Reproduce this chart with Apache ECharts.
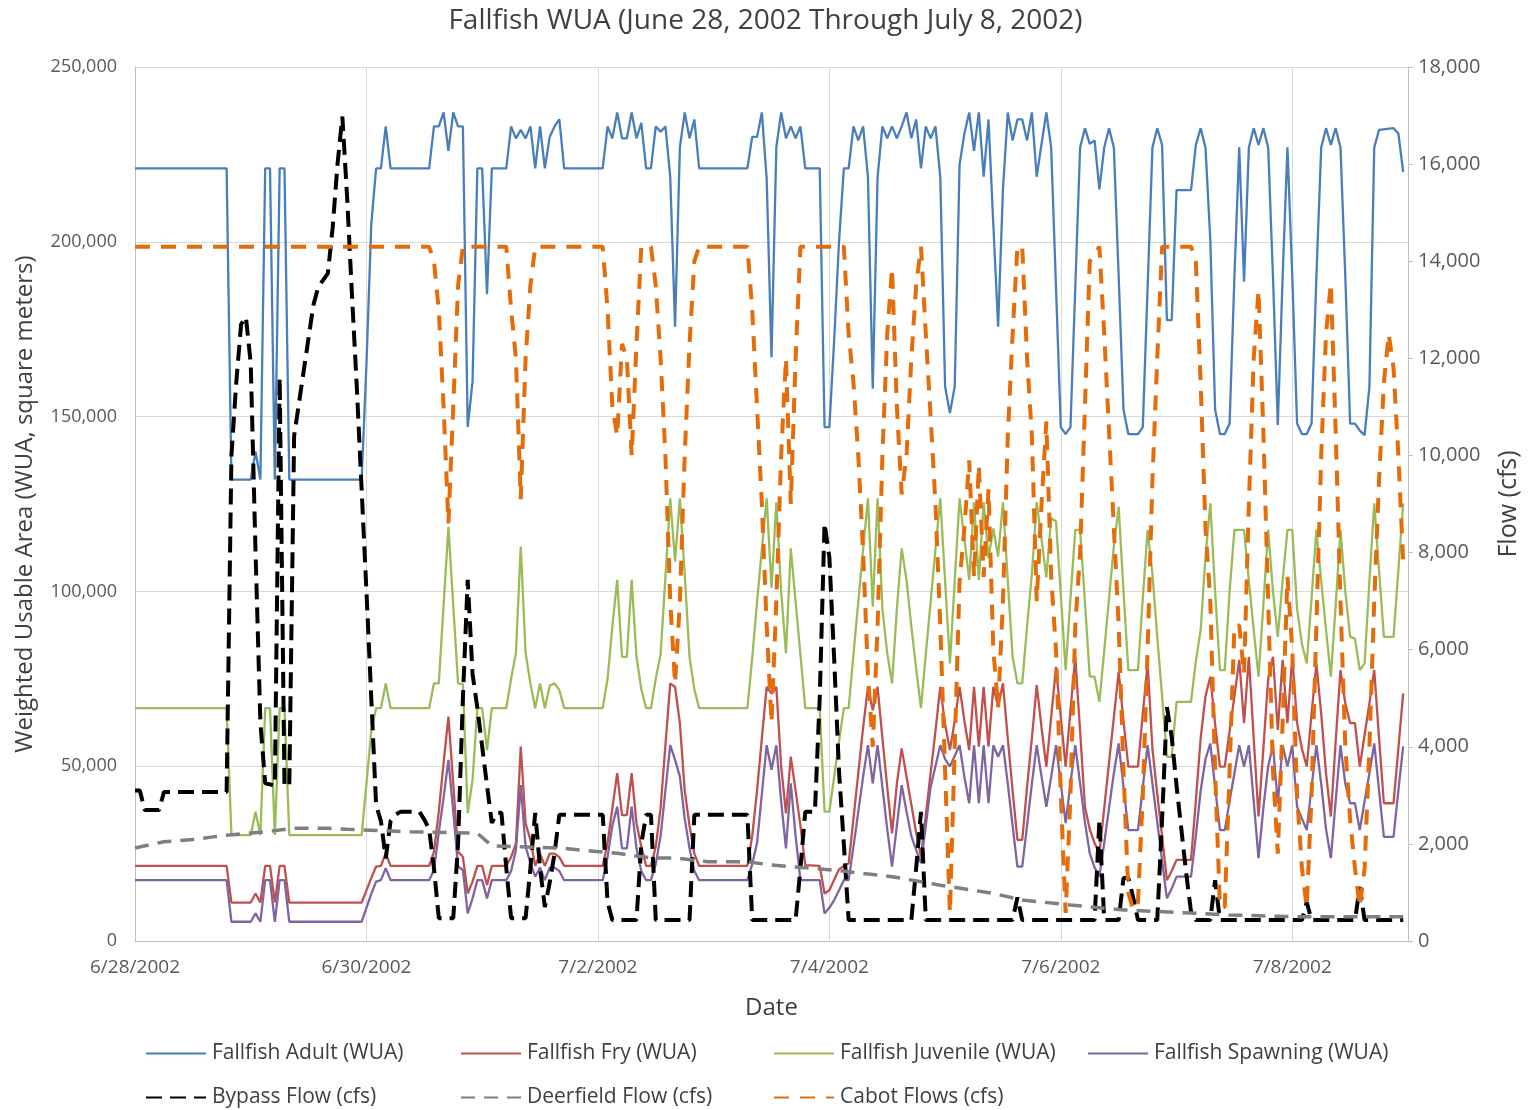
<!DOCTYPE html>
<html>
<head>
<meta charset="utf-8">
<script src="https://cdn.jsdelivr.net/npm/echarts@6/dist/echarts.min.js"></script>
<style>
html,body{margin:0;padding:0;background:#fff;}
#chart{width:1531px;height:1110px;}
</style>
</head>
<body>
<div id="chart"></div>
<script>
// x values are hours after 6/28/2002 00:00
const dateLabels = ['6/28/2002','6/30/2002','7/2/2002','7/4/2002','7/6/2002','7/8/2002'];
const leftTicks = [0, 50000, 100000, 150000, 200000, 250000];
const rightTicks = [0, 2000, 4000, 6000, 8000, 10000, 12000, 14000, 16000, 18000];

const adult = [[0,221000],[19,221000],[20,132000],[24,132000],[25,140000],[26,132000],[27,221000],[28,221000],[29,132000],[30,221000],[31,221000],[32,132000],[47,132000],[48,165000],[49,205000],[50,221000],[51,221000],[52,233000],[53,221000],[61,221000],[62,233000],[63,233000],[64,237000],[65,226000],[66,237000],[67,233000],[68,233000],[69,147000],[70,160000],[71,221000],[72,221000],[73,185000],[74,221000],[77,221000],[78,233000],[79,229600],[80,232000],[81,229600],[82,233000],[83,221000],[84,233000],[85,221000],[86,230000],[87,233000],[88,235000],[89,221000],[97,221000],[98,233000],[99,229600],[100,237000],[101,229600],[102,229600],[103,237000],[104,229600],[105,234000],[106,221000],[107,221000],[108,233000],[109,231500],[110,233000],[111,218600],[112,175700],[113,227000],[114,237000],[115,229600],[116,235000],[117,221000],[127,221000],[128,230000],[129,230000],[130,237000],[131,218000],[132,167000],[133,227000],[134,237000],[135,229600],[136,233000],[137,229600],[138,233000],[139,221000],[142,221000],[143,147000],[144,147000],[145,172000],[146,200000],[147,221000],[148,221000],[149,233000],[150,229000],[151,233000],[152,218600],[153,158000],[154,218600],[155,233000],[156,229600],[157,233000],[158,229600],[159,233000],[160,237000],[161,229600],[162,235000],[163,221000],[164,233000],[165,229600],[166,233000],[167,218600],[168,158600],[169,151000],[170,158600],[171,222000],[172,231000],[173,237000],[174,226000],[175,237000],[176,218600],[177,235000],[178,205000],[179,175700],[180,215000],[181,237000],[182,229000],[183,235000],[184,235000],[185,229000],[186,237000],[187,218600],[188,228000],[189,237000],[190,227000],[191,187000],[192,147000],[193,145000],[194,147000],[195,187000],[196,227000],[197,232500],[198,228000],[199,229000],[200,215000],[201,227000],[202,232500],[203,227000],[204,190000],[205,152000],[206,145000],[208,145000],[209,147000],[210,187000],[211,227000],[212,232500],[213,227700],[214,177600],[215,177600],[216,214800],[219,214800],[220,227700],[221,232500],[222,227000],[223,200500],[224,152000],[225,145000],[226,145000],[227,148000],[228,190000],[229,227000],[230,188600],[231,227000],[232,232500],[233,227700],[234,232500],[235,227000],[236,190000],[237,147600],[238,190000],[239,227000],[240,190000],[241,148000],[242,145000],[243,145000],[244,148000],[245,190000],[246,227000],[247,232500],[248,227700],[249,232500],[250,227000],[251,190000],[252,148000],[253,148000],[254,146000],[255,144700],[256,158600],[257,227000],[258,232000],[261,232500],[262,231000],[263,220000]];

const fry = [[0,21500],[19,21500],[20,11000],[24,11000],[25,13600],[26,11000],[27,21500],[28,21500],[29,11000],[30,21500],[31,21500],[32,11000],[47,11000],[48,14500],[49,18000],[50,21300],[51,21500],[52,25100],[53,21500],[61,21500],[62,25500],[63,37000],[64,51000],[65,64200],[66,45000],[67,25500],[68,24100],[69,13600],[70,17000],[71,21500],[72,21500],[73,16000],[74,21500],[77,21500],[78,24000],[79,28000],[80,55600],[81,33700],[82,28900],[83,21500],[84,25000],[85,21500],[86,25000],[87,25000],[88,24000],[89,21500],[97,21500],[98,28000],[99,38000],[100,48000],[101,36000],[102,36000],[103,48000],[104,33700],[105,27000],[106,21500],[107,21500],[108,27000],[109,38000],[110,56000],[111,73700],[112,72700],[113,62300],[114,43000],[115,33000],[116,25000],[117,21500],[127,21500],[128,30000],[129,43000],[130,58000],[131,72700],[132,70800],[133,72700],[134,50000],[135,36500],[136,52700],[137,43000],[138,33000],[139,21700],[142,21500],[143,13600],[144,14500],[145,17500],[146,20500],[147,21500],[148,22200],[149,35000],[150,48000],[151,61000],[152,72700],[153,66000],[154,72700],[155,58000],[156,44000],[157,30800],[158,45000],[159,55100],[160,47000],[161,39000],[162,31000],[163,24100],[164,36000],[165,48000],[166,60000],[167,72700],[168,62000],[169,54600],[170,63000],[171,72700],[172,63000],[173,54600],[174,72700],[175,55600],[176,72700],[177,55600],[178,72700],[179,67000],[180,73700],[181,58000],[182,43000],[183,28900],[184,28900],[185,44000],[186,58000],[187,73200],[188,61000],[189,49900],[190,64000],[191,78400],[192,64000],[193,49900],[194,66000],[195,81300],[196,60000],[197,38400],[198,32000],[199,28000],[200,25100],[201,38000],[202,51000],[203,64000],[204,77000],[205,63000],[206,49900],[208,49900],[209,65000],[210,79400],[211,55000],[212,42000],[213,30000],[214,17400],[215,20000],[216,23200],[219,23200],[220,40000],[221,58000],[222,70000],[223,75600],[224,62000],[225,49900],[226,49900],[227,60000],[228,70000],[229,80400],[230,62300],[231,81300],[232,58000],[233,35600],[234,55000],[235,75000],[236,81300],[237,60400],[238,80400],[239,62300],[240,81300],[241,62300],[242,55000],[243,49900],[244,65000],[245,79400],[246,65000],[247,48000],[248,35600],[249,57000],[250,77500],[251,68000],[252,62300],[253,62300],[254,49900],[255,59000],[256,68000],[257,77500],[258,58000],[259,39400],[261,39400],[262,55000],[263,70800]];

const juvenile = [[0,66600],[19,66600],[20,30300],[24,30300],[25,37000],[26,30300],[27,66600],[28,66600],[29,30300],[30,66600],[31,66600],[32,30300],[47,30300],[48,45000],[49,60000],[50,66600],[51,66600],[52,73700],[53,66600],[61,66600],[62,73700],[63,73700],[64,96000],[65,118500],[66,96000],[67,73700],[68,73500],[69,36600],[70,46000],[71,66600],[72,66600],[73,54600],[74,66600],[77,66600],[78,75000],[79,82400],[80,112800],[81,82400],[82,73700],[83,66600],[84,73700],[85,66600],[86,73000],[87,73700],[88,71800],[89,66600],[97,66600],[98,75000],[99,90000],[100,103300],[101,81300],[102,81300],[103,103300],[104,81300],[105,72000],[106,66600],[107,66600],[108,75000],[109,82000],[110,104000],[111,126600],[112,108500],[113,126600],[114,105000],[115,81300],[116,72000],[117,66600],[127,66600],[128,81000],[129,97000],[130,112000],[131,126600],[132,101000],[133,125500],[134,100000],[135,82300],[136,112300],[137,97000],[138,82000],[139,66600],[142,66600],[143,37000],[144,37000],[145,47000],[146,57000],[147,66600],[148,66600],[149,82000],[150,97000],[151,112000],[152,126600],[153,95600],[154,126600],[155,95000],[156,82300],[157,73700],[158,95000],[159,112300],[160,103300],[161,90000],[162,78000],[163,66600],[164,82000],[165,97000],[166,112000],[167,126600],[168,103000],[169,79400],[170,103000],[171,126600],[172,115000],[173,103300],[174,125500],[175,103300],[176,125500],[177,109600],[178,118000],[179,110000],[180,125500],[181,103000],[182,81300],[183,73700],[184,73700],[185,90000],[186,105000],[187,125500],[188,115000],[189,104000],[190,121000],[191,120000],[192,99000],[193,77500],[194,98000],[195,117600],[196,117600],[197,97000],[198,75600],[199,75600],[200,68400],[201,83000],[202,98000],[203,113000],[204,124200],[205,100000],[206,77500],[208,77500],[209,98000],[210,117600],[211,105000],[212,87000],[213,70000],[214,52700],[215,52700],[216,68400],[219,68400],[220,80000],[221,89000],[222,110000],[223,125200],[224,100000],[225,77500],[226,77500],[227,100000],[228,117600],[230,117600],[231,103000],[232,89000],[233,75600],[234,96000],[235,117600],[236,100000],[237,87000],[238,103000],[239,117600],[240,117600],[241,95000],[242,85000],[243,79400],[244,98000],[245,117600],[246,103000],[247,89000],[248,75600],[249,96000],[250,117600],[251,100000],[252,87000],[253,86500],[254,77500],[255,79400],[256,103000],[257,125200],[258,106000],[259,87000],[261,87000],[262,106000],[263,125200]];

const spawning = [[0,17400],[19,17400],[20,5500],[24,5500],[25,7900],[26,5500],[27,17400],[28,17400],[29,5500],[30,17400],[31,17400],[32,5500],[47,5500],[48,9500],[49,13500],[50,17000],[51,17400],[52,20800],[53,17400],[61,17400],[62,20300],[63,31000],[64,41000],[65,51800],[66,37000],[67,21300],[68,20300],[69,7900],[70,12200],[71,17400],[72,17400],[73,12200],[74,17400],[77,17400],[78,20000],[79,26000],[80,44600],[81,27000],[82,22300],[83,18400],[84,21000],[85,17400],[86,21000],[87,21000],[88,20000],[89,17400],[97,17400],[98,24000],[99,33000],[100,38400],[101,26500],[102,26500],[103,38400],[104,26500],[105,20000],[106,17400],[107,17400],[108,22000],[109,30000],[110,43000],[111,56000],[112,51800],[113,47000],[114,35000],[115,26500],[116,20000],[117,17400],[127,17400],[128,22000],[129,28000],[130,42000],[131,56000],[132,49000],[133,56000],[134,40000],[135,26500],[136,45100],[137,30000],[138,17400],[142,17400],[143,7900],[144,9500],[145,11700],[146,14500],[147,17400],[148,17400],[149,27000],[150,37000],[151,47000],[152,56000],[153,45100],[154,56000],[155,44000],[156,32000],[157,21300],[158,33000],[159,44600],[160,37000],[161,30000],[162,26000],[163,22300],[164,33000],[165,44000],[166,50000],[167,56000],[168,52000],[169,49900],[170,53000],[171,56000],[172,47000],[173,39400],[174,56000],[175,39400],[176,56000],[177,39400],[178,56000],[179,52700],[180,56000],[181,45000],[182,33000],[183,21300],[184,21300],[185,33000],[186,45000],[187,56000],[188,47000],[189,38400],[190,47000],[191,56000],[192,45000],[193,33700],[194,45000],[195,56000],[196,45000],[197,34000],[198,25100],[199,21000],[200,18400],[201,28000],[202,38000],[203,48000],[204,56500],[205,44000],[206,31700],[208,31700],[209,44000],[210,56000],[211,45000],[212,34000],[213,23000],[214,12200],[215,15000],[216,18400],[219,18400],[220,30000],[221,43000],[222,52000],[223,56500],[224,44000],[225,31700],[226,31700],[227,40000],[228,48000],[229,56000],[230,49900],[231,56000],[232,40000],[233,23700],[234,38000],[235,50000],[236,56000],[237,39400],[238,56000],[239,49900],[240,56000],[241,38400],[242,35000],[243,31700],[244,44000],[245,56000],[246,45000],[247,32000],[248,23700],[249,40000],[250,56000],[251,45000],[252,39400],[253,39400],[254,31700],[255,40000],[256,48000],[257,56500],[258,43000],[259,29800],[261,29800],[262,43000],[263,55700]];

const bypass = [[0,3100],[1,3100],[2,2700],[5,2700],[6,3070],[19,3070],[20,10000],[21,11500],[22,12700],[23,12850],[24,11900],[25,8000],[26,4500],[27,3250],[29,3200],[30,11600],[31,3200],[32,3200],[33,10400],[37,13100],[38,13470],[40,13750],[41,14700],[42,16000],[43,16980],[44,15300],[45,13300],[46,11400],[47,9300],[48,7200],[49,5000],[50,2800],[51,2470],[52,1700],[53,2470],[54,2600],[55,2660],[59,2660],[60,2500],[61,2300],[62,1500],[63,470],[66,470],[67,2000],[68,5000],[69,7440],[70,5500],[71,4800],[72,4000],[73,3200],[74,2430],[75,2640],[76,2640],[77,1500],[78,470],[81,470],[82,1500],[83,2640],[84,1500],[85,700],[86,1200],[87,1800],[88,2600],[97,2600],[98,800],[99,430],[104,430],[105,2000],[106,2600],[107,2600],[108,430],[115,430],[116,2600],[127,2600],[128,430],[137,430],[138,1500],[139,2660],[141,2660],[142,5000],[143,8600],[144,7900],[145,5800],[146,3500],[147,2000],[148,430],[161,430],[162,1500],[163,2660],[164,430],[182,430],[183,900],[184,430],[199,430],[200,2490],[201,430],[204,430],[205,1300],[206,1300],[207,900],[208,430],[212,430],[213,2500],[214,4820],[215,4200],[216,3200],[217,2300],[218,1400],[219,600],[220,430],[223,430],[224,1250],[225,430],[242,430],[243,800],[244,430],[253,430],[254,1110],[255,430],[263,430]];

const deerfield = [[0,1915],[6,2045],[12,2090],[19,2180],[27,2250],[33,2320],[40,2320],[44,2300],[57,2250],[71,2220],[74,1960],[88,1915],[100,1805],[107,1710],[112,1710],[119,1630],[127,1630],[132,1565],[145,1460],[157,1325],[167,1150],[178,980],[184,845],[194,740],[205,640],[219,575],[227,535],[240,500],[263,500]];

const cabot = [[0,14300],[61,14300],[62,14000],[63,13000],[64,11000],[65,8600],[66,11000],[67,13500],[68,14300],[77,14300],[78,13000],[79,12000],[80,9100],[81,12000],[82,13500],[83,14300],[97,14300],[98,13000],[99,11000],[100,10400],[101,12300],[102,12000],[103,10000],[104,12300],[105,14300],[107,14300],[108,13500],[109,12000],[110,10000],[111,7000],[112,5300],[113,7000],[114,10000],[115,12300],[116,14000],[117,14300],[127,14300],[128,13000],[129,11000],[130,9000],[131,6500],[132,4500],[133,7000],[134,10000],[135,12000],[136,9000],[137,12000],[138,14300],[147,14300],[148,12500],[149,11500],[150,10000],[151,8000],[152,5500],[153,4000],[154,6500],[155,10000],[156,12500],[157,13860],[158,11000],[159,9200],[160,10000],[161,12000],[162,13500],[163,14300],[164,12500],[165,10800],[166,9000],[167,6500],[168,3500],[169,580],[170,4000],[171,7400],[172,8500],[173,9900],[174,7500],[175,9800],[176,7500],[177,9300],[178,6000],[179,4800],[180,7000],[181,10400],[182,12500],[183,14300],[184,14300],[185,12000],[186,10400],[187,7000],[188,9000],[189,10700],[190,7500],[191,6000],[192,3000],[193,580],[194,3000],[195,6500],[196,8000],[197,11000],[198,14000],[200,14300],[201,12500],[202,10500],[203,8500],[204,6500],[205,3500],[206,1000],[207,640],[208,800],[209,3000],[210,6000],[211,9500],[212,12000],[213,14300],[219,14300],[220,14000],[221,11500],[222,8500],[223,7000],[224,3500],[225,700],[226,700],[227,3500],[228,6500],[229,6500],[230,5500],[231,9000],[232,12000],[233,13400],[234,10500],[235,7000],[236,3500],[237,1800],[238,4500],[239,7500],[240,6000],[241,3000],[242,1500],[243,700],[244,3000],[245,6500],[246,10000],[247,12500],[248,13550],[249,10500],[250,7000],[251,4000],[252,2500],[253,1500],[254,700],[255,1500],[256,4000],[257,7000],[258,9500],[259,11500],[260,12500],[261,11800],[262,10000],[263,7800]];

const FONT = '"Open Sans", "Noto Sans", sans-serif';
const names = ['Fallfish Adult (WUA)','Fallfish Fry (WUA)','Fallfish Juvenile (WUA)','Fallfish Spawning (WUA)','Bypass Flow (cfs)','Deerfield Flow (cfs)','Cabot Flows (cfs)'];
const legendPos = [[145,1043],[460,1043],[773,1043],[1087,1043],[145,1087],[460,1087],[773,1087]];

function fmt(v){ return v.toLocaleString('en-US'); }

const chart = echarts.init(document.getElementById('chart'), null, {renderer:'canvas'});
chart.setOption({
  animation: false,
  backgroundColor: '#ffffff',
  textStyle: { fontFamily: FONT },
  title: {
    text: 'Fallfish WUA (June 28, 2002 Through July 8, 2002)',
    left: 'center', top: 7, padding: 0,
    textStyle: { fontSize: 28, fontWeight: 'normal', color: '#404040', fontFamily: FONT }
  },
  legend: names.map((n, i) => ({
    data: [n], left: legendPos[i][0], top: legendPos[i][1], padding: 0,
    itemWidth: 60, itemHeight: 20, itemGap: 0,
    itemStyle: { opacity: 0 },
    textStyle: { fontSize: 21, color: '#404040', fontFamily: FONT, padding: [0,0,0,1] }
  })),
  grid: { left: 135, right: 123, top: 67, bottom: 169, containLabel: false },
  xAxis: {
    type: 'value', min: 0, max: 264, interval: 48,
    name: 'Date', nameLocation: 'middle', nameGap: 55,
    nameTextStyle: { fontSize: 24, color: '#404040', fontFamily: FONT },
    axisLine: { show: true, lineStyle: { color: '#BFBFBF', width: 1 } },
    axisTick: { show: false },
    axisLabel: { margin: 17, fontSize: 19, color: '#595959', fontFamily: FONT,
      formatter: v => (v % 48 === 0 && dateLabels[v/48]) ? dateLabels[v/48] : '' },
    splitLine: { show: true, lineStyle: { color: '#D9D9D9', width: 1 } }
  },
  yAxis: [
    {
      type: 'value', position: 'left', min: leftTicks[0], max: leftTicks[leftTicks.length-1], interval: 50000,
      name: 'Weighted Usable Area (WUA, square meters)', nameLocation: 'middle', nameGap: 98, nameRotate: 90,
      nameTextStyle: { fontSize: 24, color: '#404040', fontFamily: FONT },
      axisLine: { show: true, lineStyle: { color: '#BFBFBF', width: 1 } },
      axisTick: { show: false },
      axisLabel: { margin: 18, fontSize: 18, color: '#595959', fontFamily: FONT, formatter: fmt },
      splitLine: { show: true, lineStyle: { color: '#D9D9D9', width: 1 } }
    },
    {
      type: 'value', position: 'right', min: rightTicks[0], max: rightTicks[rightTicks.length-1], interval: 2000,
      name: 'Flow (cfs)', nameLocation: 'middle', nameGap: 88, nameRotate: 90,
      nameTextStyle: { fontSize: 25, color: '#404040', fontFamily: FONT },
      axisLine: { show: true, lineStyle: { color: '#BFBFBF', width: 1 } },
      axisTick: { show: true, inside: false, length: 5, lineStyle: { color: '#BFBFBF' } },
      axisLabel: { margin: 10, fontSize: 20, color: '#595959', fontFamily: FONT, formatter: fmt },
      splitLine: { show: false }
    }
  ],
  series: [
    { name: names[0], type: 'line', yAxisIndex: 0, data: adult, symbol: 'none',
      lineStyle: { color: '#4A7EBB', width: 2.3 }, itemStyle: { color: '#4A7EBB' } },
    { name: names[1], type: 'line', yAxisIndex: 0, data: fry, symbol: 'none',
      lineStyle: { color: '#C0504D', width: 2.3 }, itemStyle: { color: '#C0504D' } },
    { name: names[2], type: 'line', yAxisIndex: 0, data: juvenile, symbol: 'none',
      lineStyle: { color: '#9BBB59', width: 2.3 }, itemStyle: { color: '#9BBB59' } },
    { name: names[3], type: 'line', yAxisIndex: 0, data: spawning, symbol: 'none',
      lineStyle: { color: '#8064A2', width: 2.3 }, itemStyle: { color: '#8064A2' } },
    { name: names[4], type: 'line', yAxisIndex: 1, data: bypass, symbol: 'none',
      lineStyle: { color: '#000000', width: 4, type: [16, 8] }, itemStyle: { color: '#000000' } },
    { name: names[5], type: 'line', yAxisIndex: 1, data: deerfield, symbol: 'none',
      lineStyle: { color: '#7F7F7F', width: 3.5, type: [14, 9] }, itemStyle: { color: '#7F7F7F' } },
    { name: names[6], type: 'line', yAxisIndex: 1, data: cabot, symbol: 'none',
      lineStyle: { color: '#E46C0A', width: 4, type: [15, 11] }, itemStyle: { color: '#E46C0A' } }
  ]
});
</script>
</body>
</html>
